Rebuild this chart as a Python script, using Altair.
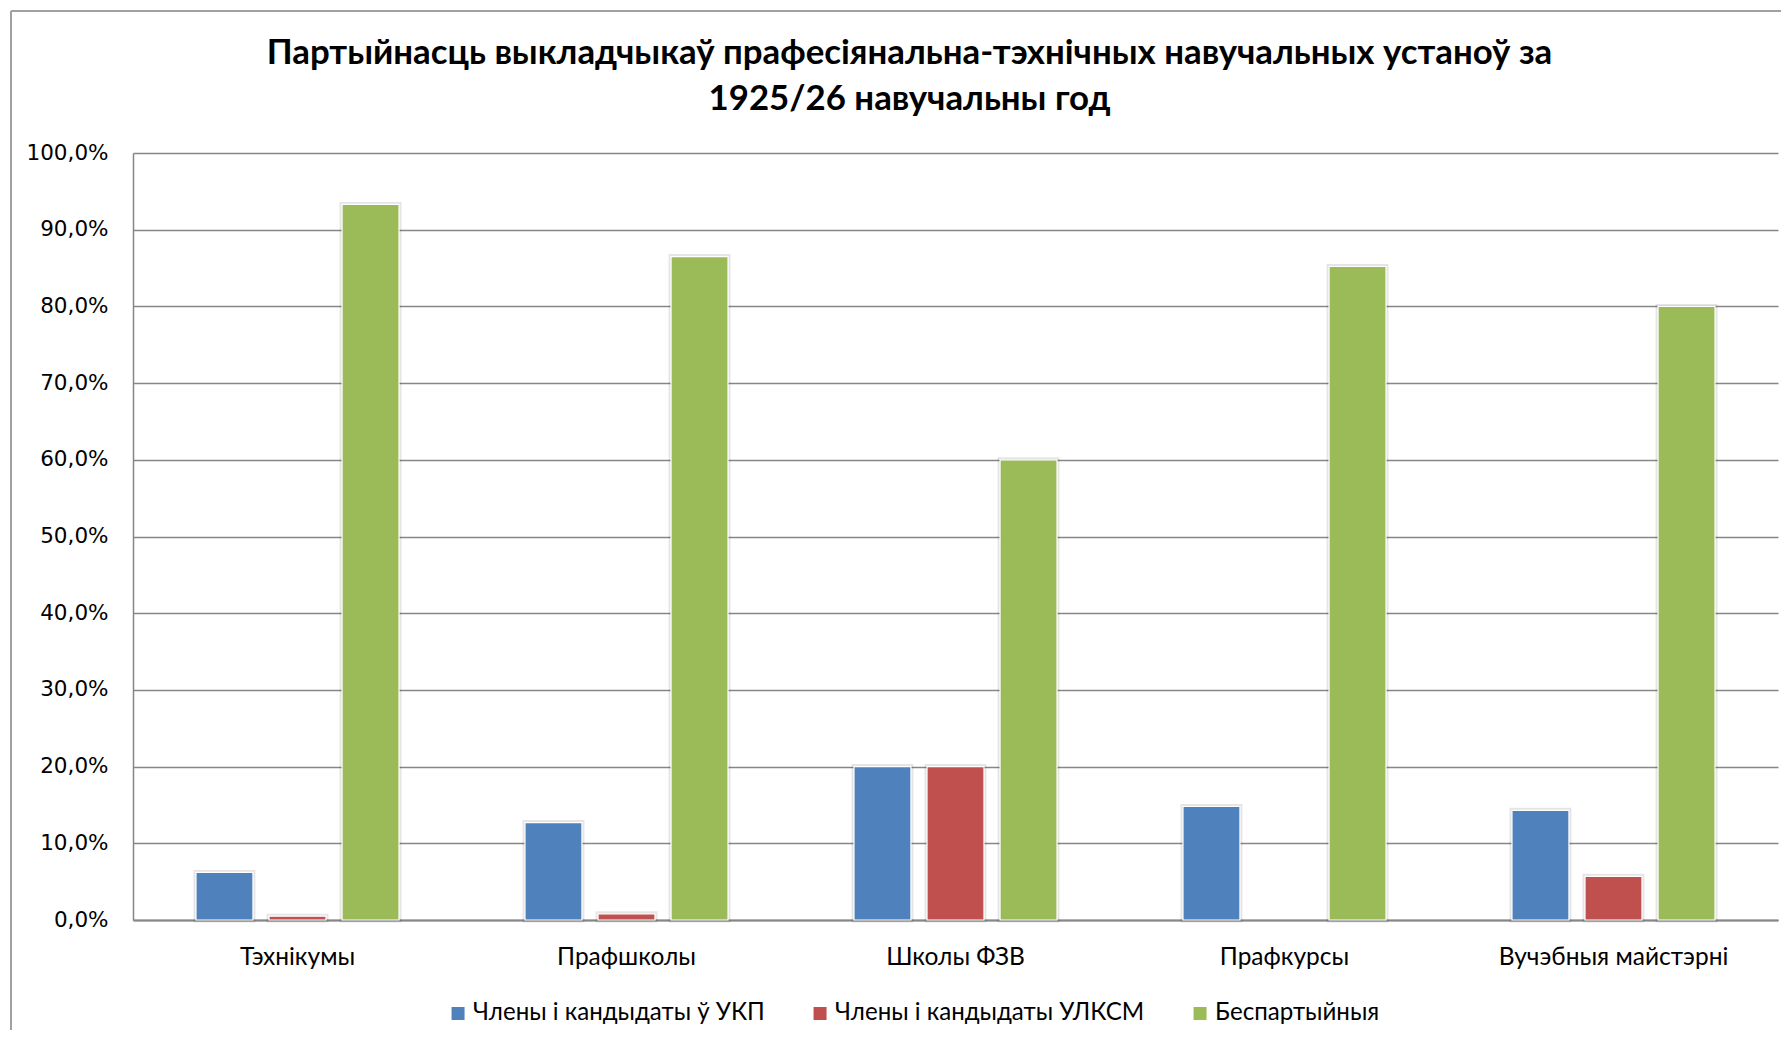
import altair as alt
import pandas as pd

categories = ["Тэхнікумы", "Прафшколы", "Школы ФЗВ", "Прафкурсы", "Вучэбныя майстэрні"]
series = ["Члены і кандыдаты ў УКП", "Члены і кандыдаты УЛКСМ", "Беспартыйныя"]
ukp = [6.2, 12.7, 20.0, 14.8, 14.3]
ulksm = [0.5, 0.8, 20.0, 0.0, 5.7]
bespart = [93.3, 86.5, 60.0, 85.2, 80.0]
colors = ["#4F81BD", "#C0504D", "#9BBB59"]
title_lines = ["Партыйнасць выкладчыкаў прафесіянальна-тэхнічных навучальных устаноў за",
               "1925/26 навучальны год"]

rows = []
for i, c in enumerate(categories):
    for s, vals in zip(series, [ukp, ulksm, bespart]):
        rows.append({"cat": c, "ser": s, "val": vals[i]})
df = pd.DataFrame(rows)

W, H = 1645, 767

x_enc = alt.X("cat:N", sort=categories, title=None,
              scale=alt.Scale(domain=categories, paddingInner=0.334, paddingOuter=0.167),
              axis=alt.Axis(labelFont="Lato", labelFontSize=24.5, labelColor="#000000",
                            labelAngle=0, ticks=False, labelPadding=25, labelLimit=500,
                            domainColor="#868686", domainWidth=2))
xo_enc = alt.XOffset("ser:N", sort=series,
                     scale=alt.Scale(domain=series, paddingInner=0.22, paddingOuter=0.11))
y_enc = alt.Y("val:Q", title=None,
              scale=alt.Scale(domain=[0, 100], nice=False),
              axis=alt.Axis(values=list(range(0, 101, 10)),
                            labelExpr="replace(format(datum.value, '.1f'), '.', ',') + '%'",
                            labelFont="DejaVu Sans", labelFontSize=21.5, labelColor="#000000",
                            ticks=False, labelPadding=25,
                            grid=True, gridColor="#868686", gridWidth=1.5,
                            domainColor="#868686", domainWidth=1.5))

base = alt.Chart(df).transform_filter("datum.val > 0")

shadow = base.mark_bar(fill="#000000", fillOpacity=0, stroke="#000000",
                       strokeOpacity=0.10, strokeWidth=5).encode(
    x=x_enc, xOffset=xo_enc, y=y_enc)

bars = base.mark_bar(stroke="white", strokeWidth=1.2).encode(
    x=x_enc, xOffset=xo_enc, y=y_enc,
    color=alt.Color("ser:N", sort=series,
                    scale=alt.Scale(domain=series, range=colors),
                    legend=alt.Legend(title=None, orient="none", legendX=313, legendY=848,
                                      direction="horizontal", symbolType="square",
                                      symbolSize=169, symbolStrokeWidth=0,
                                      labelFont="Lato", labelFontSize=24.1, labelLimit=600,
                                      labelColor="#000000", columnPadding=43,
                                      labelOffset=3, padding=0)),
)

frame_left = alt.Chart(df).mark_rule(color="#A0A0A0", strokeWidth=1.5).encode(
    x=alt.value(-122), y=alt.value(-142), y2=alt.value(H + 200))
frame_top = alt.Chart(df).mark_rule(color="#A0A0A0", strokeWidth=1.5).encode(
    x=alt.value(-122), x2=alt.value(W + 50), y=alt.value(-142))

chart = alt.layer(shadow, bars, frame_left, frame_top).properties(
    width=W, height=H,
    title=alt.TitleParams(text=title_lines, font="Lato", fontSize=34.8, fontWeight="bold",
                          color="#000000", lineHeight=46, dx=-46, offset=-108, anchor="middle"),
    autosize=alt.AutoSizeParams(type="none"),
    padding={"left": 125, "top": 145, "right": 3, "bottom": 110},
).configure_view(stroke=None)

chart.save("out.html", embed_options={"renderer": "svg", "actions": False})
